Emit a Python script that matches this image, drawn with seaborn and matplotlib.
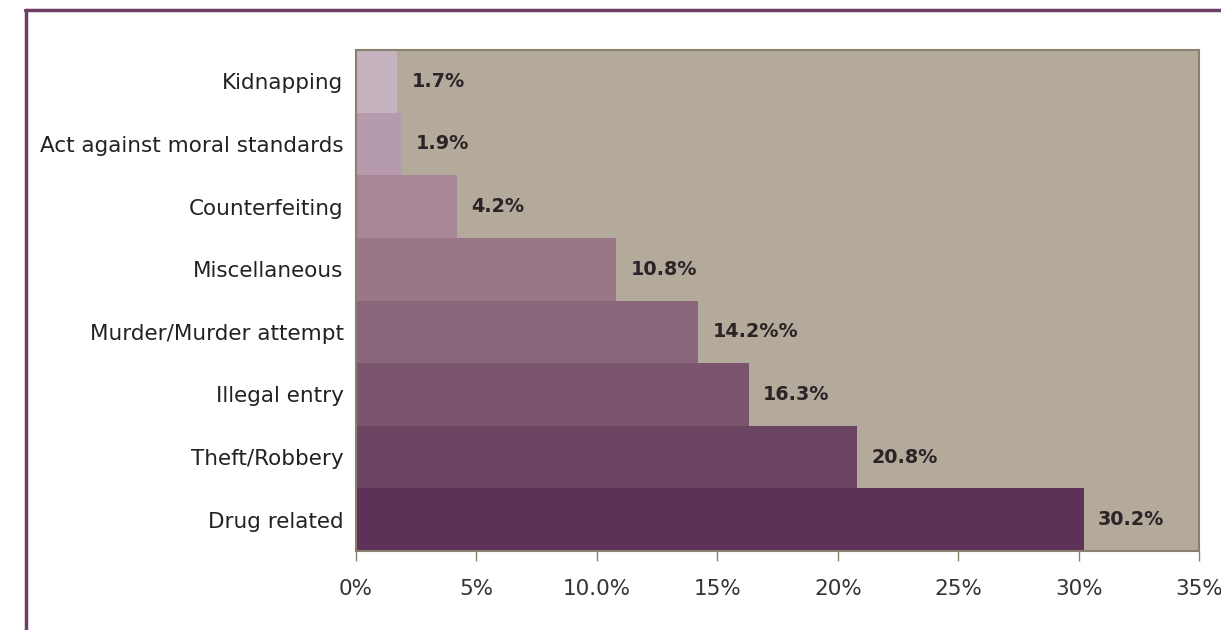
import matplotlib
matplotlib.use("Agg")
import matplotlib.pyplot as plt
from matplotlib.lines import Line2D
import seaborn as sns
import pandas as pd

categories = ["Kidnapping", "Act against moral standards", "Counterfeiting",
              "Miscellaneous", "Murder/Murder attempt", "Illegal entry",
              "Theft/Robbery", "Drug related"]
shares = [1.7, 1.9, 4.2, 10.8, 14.2, 16.3, 20.8, 30.2]
value_labels = ["1.7%", "1.9%", "4.2%", "10.8%", "14.2%%", "16.3%", "20.8%", "30.2%"]
tick_values = [0, 5, 10, 15, 20, 25, 30, 35]
tick_labels = ["0%", "5%", "10.0%", "15%", "20%", "25%", "30%", "35%"]
bar_colors = ["#c6b3c0", "#b59bac", "#a88897", "#997787", "#8a667b",
              "#7b546e", "#6b4462", "#5e3159"]

df = pd.DataFrame({"category": categories, "share": shares})

sns.set_style("white")
plt.rcParams["font.family"] = ["DejaVu Sans"]

fig = plt.figure(figsize=(12.21, 6.3), dpi=100)
ax = fig.add_axes([0.2916, 0.1254, 0.6905, 0.7952])
ax.set_facecolor("#b3aa9b")

sns.barplot(data=df, y="category", x="share", hue="category", palette=bar_colors,
            width=1.0, orient="h", legend=False, ax=ax, saturation=1, linewidth=0)

for p, lab in zip(ax.patches, value_labels):
    ax.text(p.get_width() + 0.6, p.get_y() + p.get_height() / 2, lab,
            va="center", ha="left", fontsize=13.8, fontweight="bold", color="#2a2426")

ax.set_xlim(0, 35)
ax.set_ylim(7.5, -0.5)
ax.set_xticks(tick_values)
ax.set_xticklabels(tick_labels, fontsize=15.5, color="#333333")
ax.tick_params(axis="x", length=7, width=1, color="#8a8070", pad=13, bottom=True)
ax.tick_params(axis="y", length=0, labelsize=15.5, pad=9, labelcolor="#222222")
ax.set_xlabel("")
ax.set_ylabel("")
for s in ax.spines.values():
    s.set_color("#8a8070")
    s.set_linewidth(1.5)

# outer frame lines
fig.add_artist(Line2D([25 / 1221, 1.0], [1 - 10 / 630, 1 - 10 / 630],
                      transform=fig.transFigure, color="#6b3f66", lw=2.5))
fig.add_artist(Line2D([26 / 1221, 26 / 1221], [1 - 10 / 630, 0],
                      transform=fig.transFigure, color="#6b3f66", lw=2.5))

fig.savefig("out.png", dpi=100)
